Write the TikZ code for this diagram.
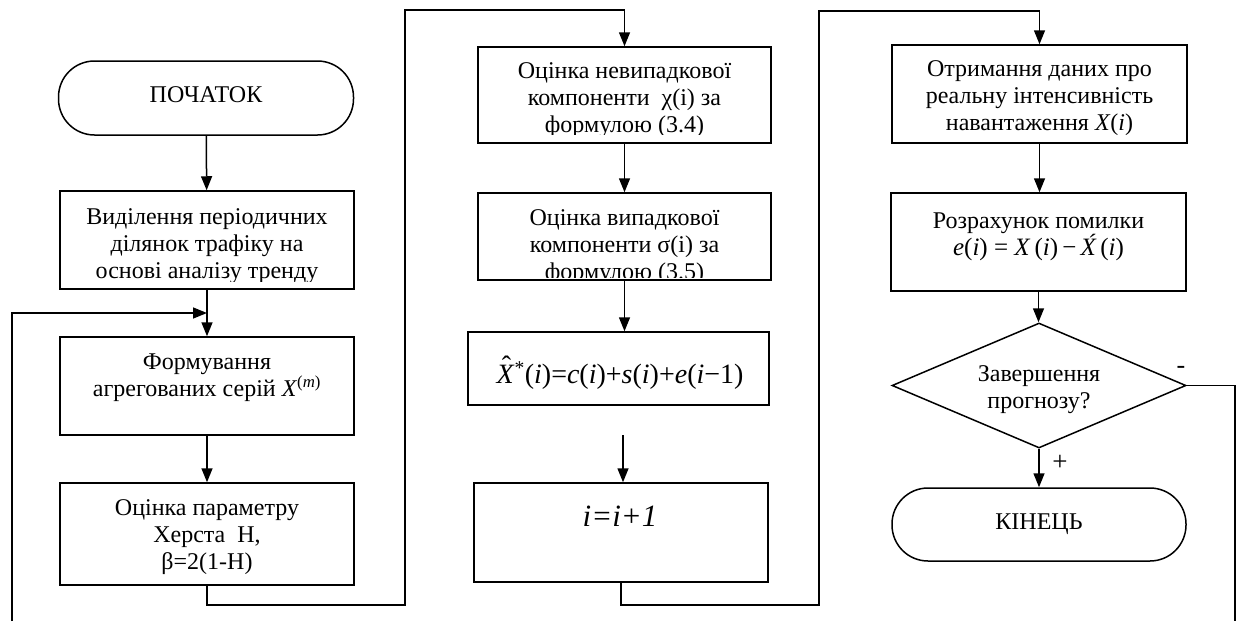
\documentclass[tikz,border=0pt]{standalone}
\usepackage{fontspec}
\setmainfont{Liberation Serif}
\usetikzlibrary{shapes.geometric,arrows.meta}
\begin{document}
\begin{tikzpicture}[x=1pt,y=-1pt,
  every node/.style={font=\fontsize{24}{27}\selectfont},
  box/.style={draw,line width=1.5pt,inner sep=0pt},
  txt/.style={align=center,inner sep=0pt},
  term/.style={draw,line width=1.5pt,rounded corners=36pt,inner sep=0pt,minimum width=295pt,minimum height=74pt},
  dec/.style={draw,line width=1.5pt,diamond,aspect=2.35,minimum width=294pt,minimum height=125pt,inner sep=0pt},
  arr/.style={line width=1.5pt,-{Triangle[length=14pt,width=11pt]}},
  ln/.style={line width=1.5pt}]
\useasboundingbox (0,0) rectangle (1239,621);
% left column
\node[term] (start) at (206,98) {};
\node[txt] (tstart) at (206,95) {ПОЧАТОК};
\node[box,minimum width=294pt,minimum height=98pt] (b1) at (207,240) {};
\begin{scope}
  \clip (b1.north west) rectangle (b1.east |- 0,281);
  \node[txt] (t1) at (207,246) {Виділення періодичних\\ділянок трафіку на\\основі аналізу тренду};
\end{scope}
\node[box,minimum width=294pt,minimum height=98pt] (b2) at (207,386) {};
\node[txt] (t2) at (207,378) {Формування\\агрегованих серій \textit{X}\textsuperscript{(\textit{m})}};
\node[box,minimum width=294pt,minimum height=102pt] (b3) at (207,534) {};
\node[txt] (t3) at (207,537) {Оцінка параметру\\Херста~~Н,\\β=2(1-Н)};
% middle column
\node[box,minimum width=293pt,minimum height=96pt] (b4) at (624.5,95) {};
\begin{scope}
  \clip (b4.north west) rectangle (b4.east |- 0,134);
  \node[txt] (t4) at (624.5,100) {Оцінка невипадкової\\компоненти~~χ(i) за\\формулою (3.4)};
\end{scope}
\node[box,minimum width=293pt,minimum height=87pt] (b5) at (624.5,236.5) {};
\begin{scope}
  \clip (b5.north west) rectangle (b5.east |- 0,277);
  \node[txt] (t5) at (624.5,247) {Оцінка випадкової\\компоненти σ(i) за\\формулою (3.5)};
\end{scope}
\node[box,minimum width=301pt,minimum height=73pt] (b6) at (618.5,368.5) {};
\node[txt,font=\fontsize{28}{30}\selectfont] (t6) at (620,373) {\textit{X}\llap{\raisebox{0.28em}{\char"02C6}\hspace{0.12em}}\textsuperscript{*}(\textit{i})=\textit{c}(\textit{i})+\textit{s}(\textit{i})+\textit{e}(\textit{i}−1)};
\node[box,minimum width=294pt,minimum height=99pt] (b7) at (621,532.5) {};
\node[txt,font=\fontsize{31}{33}\selectfont] (t7) at (620,516) {\textit{i=i+1}};
% right column
\node[box,minimum width=295pt,minimum height=98pt] (b8) at (1039.5,94) {};
\node[txt] (t8) at (1039.5,98) {Отримання даних про\\реальну інтенсивність\\навантаження \textit{X}(\textit{i})};
\node[box,minimum width=295pt,minimum height=98pt] (b9) at (1038.5,242) {};
\node[txt] (t9) at (1038.5,237) {Розрахунок помилки\\{\fontsize{25}{28}\selectfont\textit{e}(\textit{i}) = \textit{X}\,(\textit{i})\,−\,\textit{\'{X}}\,(\textit{i})}};
\node[dec] (d) at (1039,385.5) {};
\node[txt] (td) at (1039,390) {Завершення\\прогнозу?};
\node[term,minimum width=294pt,minimum height=73pt] (end) at (1039,524.5) {};
\node[txt] (tend) at (1039,524) {КІНЕЦЬ};
% coordinates
\coordinate (m1) at (207,313);
\coordinate (lb) at (12,621);
\coordinate (c1) at (207,605);
\coordinate (c2) at (405,605);
\coordinate (c3) at (405,10);
\coordinate (g1) at (623,435);
\coordinate (c4) at (621,605);
\coordinate (c5) at (819,605);
\coordinate (c6) at (819,11);
\coordinate (r1) at (1235,385.5);
\coordinate (rb) at (1235,621);
% connectors
\draw[arr] (start) -- (b1);
\draw[arr] (b1) -- (b2);
\draw[arr] (lb) |- (m1);
\draw[arr] (b2) -- (b3);
\draw[arr] (b3.south) -- (c1) -- (c2) -- (c3) -| (b4.north);
\draw[arr] (b4) -- (b5);
\draw[arr] (b5.south) -- (b5.south |- b6.north);
\draw[arr] (g1) -- (g1 |- b7.north);
\draw[arr] (b7.south) -- (c4) -- (c5) -- (c6) -| (b8.north);
\draw[arr] (b8.south) -- (b8.south |- b9.north);
\draw[arr] (b9.south) -- (b9.south |- d.north);
\draw[arr] (d.south) -- (end.north);
\node[txt,font=\fontsize{27}{28}\selectfont] (plus) at (1060,463) {+};
\draw[ln] (d.east) -- (r1) -- (rb);
\node[txt,font=\fontsize{26}{28}\selectfont] (minus) at (1181,370) {-};
\end{tikzpicture}
\end{document}
